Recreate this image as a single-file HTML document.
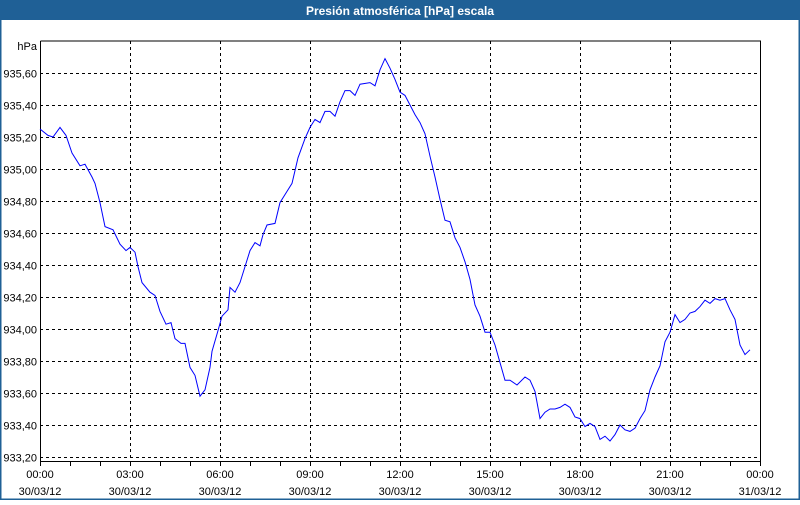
<!DOCTYPE html>
<html><head><meta charset="utf-8"><style>
html,body{margin:0;padding:0;background:#fff;}
body{width:800px;height:500px;overflow:hidden;font-family:"Liberation Sans",sans-serif;}
</style></head><body>
<svg id="chart" width="800" height="500" xmlns="http://www.w3.org/2000/svg" font-family="Liberation Sans, sans-serif">
<rect x="0" y="0" width="800" height="500" fill="#ffffff"/>
<rect x="0.5" y="0.5" width="799" height="499" fill="none" stroke="#1f6096" stroke-width="2"/>
<rect x="0" y="0" width="800" height="20" fill="#1f6096"/>
<text x="400" y="15" text-anchor="middle" fill="#fff" font-size="12" font-weight="bold">Presión atmosférica [hPa] escala</text>
<g id="grid"></g>
<g id="axes"></g>
<g id="series"></g>
</svg>
<script>
const yTicks=[933.2,933.4,933.6,933.8,934.0,934.2,934.4,934.6,934.8,935.0,935.2,935.4,935.6];
const xTickTimes=["00:00","03:00","06:00","09:00","12:00","15:00","18:00","21:00","00:00"];
const xTickDates=["30/03/12","30/03/12","30/03/12","30/03/12","30/03/12","30/03/12","30/03/12","30/03/12","31/03/12"];
const minutes=[0,16,26,40,52,64,80,90,104,110,120,130,146,160,172,180,190,196,204,220,230,240,252,262,270,282,290,300,310,320,330,340,344,356,364,376,380,390,400,410,420,430,440,446,454,470,480,494,504,510,516,530,540,550,560,570,580,590,600,610,620,630,640,660,670,680,690,700,710,720,730,740,750,760,770,780,790,800,810,820,830,840,850,860,870,880,890,900,910,920,930,940,954,970,980,990,1000,1010,1020,1030,1040,1050,1060,1070,1080,1090,1100,1110,1120,1130,1140,1150,1160,1170,1180,1190,1200,1210,1220,1230,1240,1250,1260,1270,1280,1290,1300,1310,1320,1330,1340,1350,1360,1370,1380,1390,1400,1410,1420,1430];
const pressure=[935.25,935.21,935.20,935.26,935.21,935.10,935.02,935.03,934.95,934.91,934.79,934.64,934.62,934.53,934.49,934.51,934.48,934.39,934.29,934.23,934.21,934.11,934.03,934.04,933.94,933.91,933.91,933.76,933.71,933.58,933.62,933.76,933.86,933.99,934.08,934.12,934.26,934.23,934.29,934.39,934.49,934.54,934.52,934.59,934.65,934.66,934.79,934.86,934.91,934.99,935.07,935.19,935.26,935.31,935.29,935.36,935.36,935.33,935.42,935.49,935.49,935.46,935.53,935.54,935.52,935.62,935.69,935.63,935.56,935.48,935.46,935.40,935.34,935.29,935.22,935.08,934.95,934.81,934.68,934.67,934.57,934.51,934.42,934.31,934.15,934.08,933.98,933.98,933.90,933.79,933.68,933.68,933.65,933.70,933.68,933.61,933.44,933.48,933.50,933.50,933.51,933.53,933.51,933.45,933.44,933.39,933.41,933.39,933.31,933.33,933.30,933.34,933.40,933.37,933.36,933.38,933.44,933.49,933.62,933.70,933.77,933.92,933.98,934.09,934.04,934.06,934.10,934.11,934.14,934.18,934.16,934.19,934.18,934.19,934.12,934.06,933.90,933.84,933.87];
</script>
<script>
const NS="http://www.w3.org/2000/svg";
const L=40,R=760,T=41,B=461;
const xS=m=>L+(m/1440)*(R-L);
const yS=v=>457-(v-933.2)*160;
function mk(tag,attrs,parent){const e=document.createElementNS(NS,tag);for(const k in attrs)e.setAttribute(k,attrs[k]);parent.appendChild(e);return e;}
const grid=document.getElementById('grid'),axes=document.getElementById('axes'),series=document.getElementById('series');
yTicks.forEach((v,i)=>{const y=Math.round(yS(v))+0.5;
 const g=mk('line',{x1:L,x2:R,y1:y,y2:y,stroke:'#000','stroke-dasharray':'3,3','stroke-width':1},grid);
 
 const t=mk('text',{x:37,y:y+4,'text-anchor':'end','font-size':11,fill:'#000'},axes);
 
 t.textContent=v.toFixed(2).replace('.',',');});
for(let h=0;h<=24;h++){const x=Math.round(xS(h*60))+0.5;
 const tk=mk('line',{x1:x,x2:x,y1:B,y2:B+5,stroke:'#000'},axes);
 
 if(h%3===0&&h>0&&h<24){const g=mk('line',{x1:x,x2:x,y1:T,y2:B,stroke:'#000','stroke-dasharray':'3,3'},grid);
  }}
xTickTimes.forEach((s,i)=>{const x=xS(i*180);
 const t1=mk('text',{x:x,y:478,'text-anchor':'middle','font-size':11,fill:'#000'},axes);
 t1.textContent=s;
 const t2=mk('text',{x:x,y:495,'text-anchor':'middle','font-size':11,fill:'#000'},axes);
 t2.textContent=xTickDates[i];});
const unit=mk('text',{x:37,y:50,'text-anchor':'end','font-size':11,fill:'#000'},axes);
unit.textContent='hPa';
const fr=mk('path',{d:`M${L+0.5},${T} V${B+0.5} H${R+0.5} V${T} H${L+0.5}`,fill:'none',stroke:'#000','stroke-width':1},axes);

const pts=minutes.map((m,i)=>xS(m).toFixed(1)+','+yS(pressure[i]).toFixed(1)).join(' ');
const pl=mk('polyline',{points:pts,fill:'none',stroke:'#0000ff','stroke-width':1},series);

</script>
</body></html>
